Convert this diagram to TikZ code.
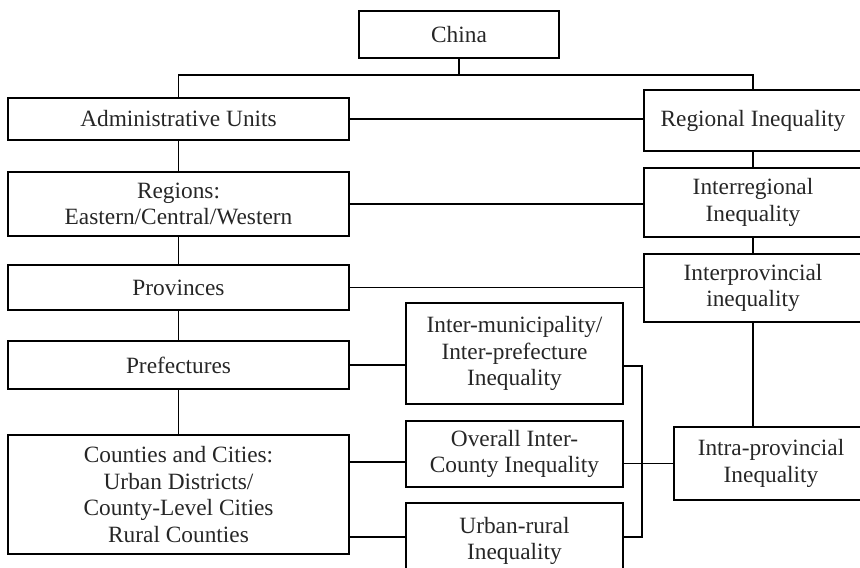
\documentclass[tikz,border=0pt]{standalone}
\usepackage{fontspec}
\setmainfont{Liberation Serif}
\usetikzlibrary{positioning, calc}

\begin{document}
\begin{tikzpicture}[
    x=0.025cm, y=-0.025cm,
    unit/.style={draw, rectangle, line width=1.1pt, align=center, inner sep=2pt,
        font=\fontsize{16.6pt}{18.9pt}\selectfont, text=black!85,
        minimum width=#1},
    unit/.default=8.525cm,
    link/.style={line width=1.1pt}
]

% --- Frame ---
\useasboundingbox (0,0) rectangle (860,567);
\clip (0,0) rectangle (860,567);

% --- Top ---
\node[unit=5cm, minimum height=1.175cm] (china) at (459,34.5) {China};

% --- Administrative hierarchy (left column) ---
\node[unit, minimum height=1.05cm]  (admin)       at (178.5,119)   {Administrative Units};
\node[unit, minimum height=1.6cm]   (regions)     at (178.5,204)   {Regions:\\Eastern/Central/Western};
\node[unit, minimum height=1.125cm] (provinces)   at (178.5,287.5) {Provinces};
\node[unit, minimum height=1.2cm]   (prefectures) at (178.5,365)   {Prefectures};
\node[unit, minimum height=2.975cm] (counties)    at (178.5,494.5) {Counties and Cities:\\Urban Districts/\\County-Level Cities\\Rural Counties};

% --- Sub-provincial inequality (middle column) ---
\node[unit=5.425cm, minimum height=2.525cm] (intermuni)  at (514.5,353.5) {Inter-municipality/\\Inter-prefecture\\Inequality};
\node[unit=5.425cm, minimum height=1.65cm]  (overall)    at (514.5,454)   {Overall Inter-\\County Inequality};
\node[unit=5.425cm, minimum height=1.9cm]   (urbanrural) at (514.5,541)   {Urban-rural\\Inequality};

% --- Regional inequality (right column) ---
\node[unit=5.45cm, minimum height=1.525cm]  (regional)        at (753,120.5) {Regional Inequality};
\node[unit=5.45cm, minimum height=1.725cm]  (interregional)   at (753,202.5) {Interregional\\Inequality};
\node[unit=5.45cm, minimum height=1.7cm]    (interprovincial) at (753,288)   {Interprovincial\\inequality};
\node[unit=4.85cm, minimum height=1.825cm]  (intraprovincial) at (771,463.5) {Intra-provincial\\Inequality};

% --- Tree from China ---
\coordinate (split) at (459,75);
\draw[link] (china.south) -- (split);
\draw[link] (admin.north) |- (split) -| (regional.north);

% --- Vertical chains ---
\draw[link] (admin) -- (regions);
\draw[link] (regions) -- (provinces);
\draw[link] (provinces) -- (prefectures);
\draw[link] (prefectures) -- (counties);
\draw[link] (regional) -- (interregional);
\draw[link] (interregional) -- (interprovincial);
\draw[link] (interprovincial.south) -- (interprovincial.south |- intraprovincial.north);

% --- Horizontal links ---
\draw[link] (admin.east) -- (admin.east -| regional.west);
\draw[link] (regions.east) -- (regions.east -| interregional.west);
\draw[link] (provinces.east) -- (provinces.east -| interprovincial.west);
\draw[link] (prefectures.east) -- (prefectures.east -| intermuni.west);
\draw[link] ([yshift=0.81cm]counties.east) -- ([yshift=0.81cm]counties.east -| overall.west);
\draw[link] ([yshift=-1.06cm]counties.east) -- ([yshift=-1.06cm]counties.east -| urbanrural.west);

% --- Bracket into intra-provincial ---
\coordinate (bend) at (642,366);
\draw[link] ([yshift=-0.31cm]intermuni.east) -- ([yshift=-0.31cm]intermuni.east -| bend)
    |- ([yshift=-1.06cm]counties.east -| urbanrural.east);
\draw[link] (intraprovincial.west) -- (intraprovincial.west -| overall.east);

\end{tikzpicture}
\end{document}
